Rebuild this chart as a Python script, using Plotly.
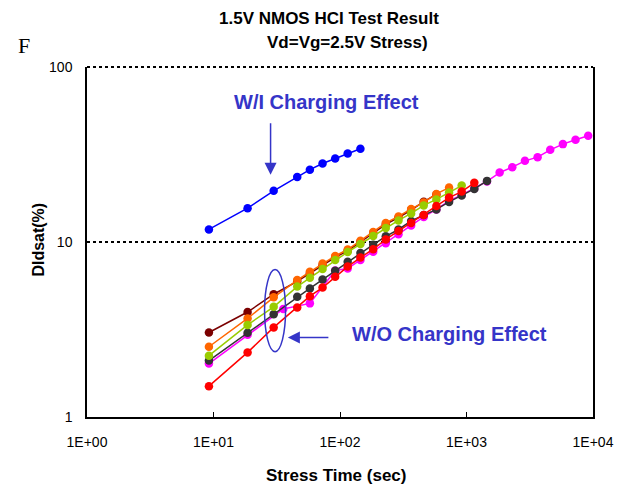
import plotly.graph_objects as go

# ---- data ----
times = [9.2, 18.6, 29.9, 45.9, 57.8, 72.8, 91.6, 115, 145, 183, 230, 290, 365, 459,
         578, 728, 916, 1153, 1452, 1828, 2301, 2897, 3648, 4592, 5781, 7278, 9162]

wi_charging = [11.8, 15.6, 19.6, 23.5, 25.9, 28.1, 30.0, 32.0, 34.1]

maroon = [3.04, 3.98, 5.03, 5.95, 6.62, 7.35, 8.18, 8.90, 9.97, 11.2, 12.6, 13.8, 15.2, 17.0, 18.7]
orange = [2.52, 3.66, 4.83, 6.06, 6.76, 7.53, 8.32, 9.06, 10.16, 11.41, 12.85, 14.00, 15.45, 16.83, 18.83, 20.46]
green = [2.24, 3.36, 4.26, 5.56, 6.24, 7.00, 7.89, 8.76, 9.74, 10.83, 12.03, 13.28, 14.56, 16.18, 17.51, 19.15, 21.01]
gray = [2.10, 3.03, 3.86, 4.86, 5.43, 6.10, 6.86, 7.71, 8.65, 9.66, 10.78, 11.79, 13.19, 14.27, 15.35, 16.94, 18.46, 20.11, 22.35]
red = [1.50, 2.34, 3.25, 4.22, 4.90, 5.49, 6.33, 7.24, 8.15, 9.09, 10.34, 11.56, 12.85, 14.27, 16.07, 17.93, 19.41, 21.77]

magenta_times = [9.2, 18.6, 35.6, 57.8] + times[6:]
magenta = [2.02, 2.95, 4.14, 4.46, 6.87, 7.05, 7.89, 8.80, 9.83, 11.07, 12.43, 13.91, 15.35,
           17.17, 18.58, 20.24, 22.20, 24.93, 26.77, 29.09, 30.53, 33.62, 36.25, 38.37, 40.45]

x_tickvals = [1, 10, 100, 1000, 10000]
x_ticktext = ["1E+00", "1E+01", "1E+02", "1E+03", "1E+04"]
y_tickvals = [1, 10, 100]
y_ticktext = ["1", "10", "100"]

FONT = "Liberation Sans, Arial, sans-serif"
ANN = "#3535C8"

fig = go.Figure()

def add(xs, ys, color):
    fig.add_trace(go.Scatter(
        x=xs[:len(ys)], y=ys, mode="lines+markers",
        line=dict(color=color, width=1.5),
        marker=dict(color=color, size=8.5),
        showlegend=False, hoverinfo="skip"))

add(times, maroon, "#7B0000")
add(magenta_times, magenta, "#FF00FF")
add(times, gray, "#333333")
add(times, orange, "#FF6600")
add(times, green, "#99CC00")
add(times, red, "#FF0000")
add(times, wi_charging, "#0000FF")

fig.update_layout(
    width=626, height=492,
    margin=dict(l=87, r=33, t=67, b=75),
    paper_bgcolor="white", plot_bgcolor="white",
    font=dict(family=FONT, color="black"),
    xaxis=dict(type="log", range=[0, 4], tickvals=x_tickvals, ticktext=x_ticktext,
               showgrid=False, zeroline=False, showline=True, linecolor="black",
               linewidth=1.5, mirror=False, ticks="inside", ticklen=5, tickwidth=1,
               tickcolor="black", tickfont=dict(size=14, family=FONT),
               ticklabelstandoff=11),
    yaxis=dict(type="log", range=[0, 2], tickvals=y_tickvals, ticktext=y_ticktext,
               showgrid=True, gridcolor="black", gridwidth=2, griddash="dot",
               zeroline=False, showline=True, linecolor="black", linewidth=1.5,
               mirror=True, ticks="", tickfont=dict(size=14, family=FONT),
               ticklabelstandoff=10),
)

# dotted top edge (gridline at 100) and highlight ellipse
fig.add_shape(type="line", xref="paper", yref="paper", x0=0, x1=1, y0=1, y1=1,
              line=dict(color="black", width=2, dash="dot"))
fig.add_shape(type="circle", xref="paper", yref="paper",
              x0=0.3509, x1=0.3924, y0=0.1866, y1=0.4213,
              line=dict(color=ANN, width=1.5))

annotations = [
    dict(text="<b>1.5V NMOS HCI Test Result</b>", x=0.4774, y=1.1382,
         font=dict(size=17, family=FONT)),
    dict(text="<b>Vd=Vg=2.5V Stress)</b>", x=0.5149, y=1.0696,
         font=dict(size=17, family=FONT)),
    dict(text="F", x=-0.1253, y=1.061,
         font=dict(size=22, family="Liberation Serif, Times New Roman, serif")),
    dict(text="<b>Stress Time (sec)</b>", x=0.4915, y=-0.168,
         font=dict(size=17, family=FONT)),
    dict(text="<b>DIdsat(%)</b>", x=-0.0976, y=0.5057, textangle=-90,
         font=dict(size=16, family=FONT)),
    dict(text="<b>W/I Charging Effect</b>", x=0.4734, y=0.8987,
         font=dict(size=20, family=FONT, color=ANN)),
    dict(text="<b>W/O Charging Effect</b>", x=0.7165, y=0.2367,
         font=dict(size=20, family=FONT, color=ANN)),
]
for a in annotations:
    fig.add_annotation(xref="paper", yref="paper", showarrow=False,
                       xanchor="center", yanchor="middle", **a)

# arrows
fig.add_annotation(xref="paper", yref="paper", x=0.3628, y=0.6918, ax=0, ay=-53,
                   text="", showarrow=True, arrowhead=2, arrowsize=1.6,
                   arrowwidth=1.5, arrowcolor=ANN)
fig.add_annotation(xref="paper", yref="paper", x=0.397, y=0.2272, ax=42, ay=0,
                   text="", showarrow=True, arrowhead=2, arrowsize=1.6,
                   arrowwidth=1.5, arrowcolor=ANN)

fig.write_html("out.html", config={"displayModeBar": False},
               post_script="document.body.style.margin='0';document.body.style.overflow='hidden';")
